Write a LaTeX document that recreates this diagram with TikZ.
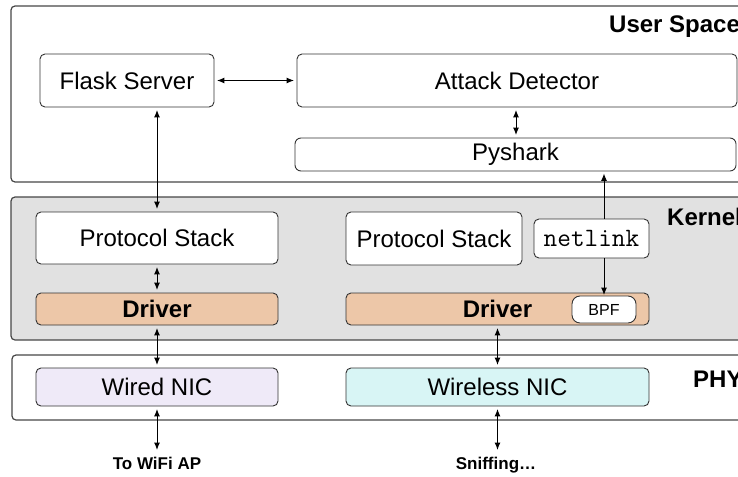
\documentclass[tikz,border=0pt]{standalone}
\usepackage{fontspec}
\setmainfont{Liberation Sans}
\usetikzlibrary{arrows.meta}
\definecolor{kernelgray}{HTML}{E1E1E1}
\definecolor{driverfill}{HTML}{EDC7A8}
\definecolor{wiredfill}{HTML}{EFEAF8}
\definecolor{wirelessfill}{HTML}{D8F5F5}
\definecolor{edgecol}{HTML}{333333}
\begin{document}
\begin{tikzpicture}[x=1pt,y=-1pt,
  layer/.style={draw=edgecol!90, line width=1.2pt, rounded corners=4pt, inner sep=0pt},
  box/.style={draw=edgecol, line width=0.9pt, rounded corners=5pt, fill=white, inner sep=0pt,
    font=\fontsize{24}{28}\selectfont},
  drv/.style={box, fill=driverfill, font=\bfseries\fontsize{24}{28}\selectfont},
  layerlbl/.style={anchor=base west, inner sep=0pt, font=\bfseries\fontsize{24}{28}\selectfont},
  endlbl/.style={anchor=base, inner sep=0pt, font=\bfseries\fontsize{17}{20}\selectfont},
  link/.style={{Latex[length=7.5pt,width=6pt]}-{Latex[length=7.5pt,width=6pt]}, line width=1pt,
    shorten <=2.5pt, shorten >=2.5pt},
  onelink/.style={-{Latex[length=7.5pt,width=6pt]}, line width=1pt, shorten >=2pt},
]
\useasboundingbox (0,0) rectangle (738,476);
\clip (0,0) rectangle (738,476);

% layers
\node[layer, fill=white, minimum width=759pt, minimum height=176pt] (uspace) at (390.5,94) {};
\node[layer, fill=kernelgray, minimum width=759pt, minimum height=143pt] (kernel) at (390.5,268.5) {};
\node[layer, fill=white, minimum width=758pt, minimum height=65pt] (phy) at (391,387.5) {};

\node[layerlbl] (lbluser) at (609,33) {User Space};
\node[layerlbl] (lblkernel) at (667,225) {Kernel};
\node[layerlbl] (lblphy) at (693,387) {PHY};

% user space
\node[box, minimum width=174pt, minimum height=53pt] (flask) at (127,80.5) {Flask Server};
\node[box, minimum width=440pt, minimum height=53pt] (detector) at (517,80.5) {Attack Detector};
\node[box, rounded corners=6pt, minimum width=441pt, minimum height=33pt] (pyshark) at (515.5,154.5) {Pyshark};

% kernel
\node[box, minimum width=242pt, minimum height=52pt] (protl) at (157,238) {Protocol Stack};
\node[box, minimum width=176pt, minimum height=53pt] (protr) at (434,238.5) {Protocol Stack};
\node[box, minimum width=115pt, minimum height=39pt, font=\ttfamily\fontsize{26.5}{30}\selectfont] (netlink) at (591.5,238.5) {netlink};
\node[drv, minimum width=242pt, minimum height=32pt] (drvl) at (157,309) {Driver};
\node[drv, minimum width=303pt, minimum height=32pt] (drvr) at (497.5,309) {Driver};
\node[box, rounded corners=8pt, minimum width=64pt, minimum height=27pt, font=\fontsize{16}{19}\selectfont] (bpf) at (604,309.5) {BPF};

% hardware
\node[box, fill=wiredfill, minimum width=242pt, minimum height=38pt] (wired) at (157,387) {Wired NIC};
\node[box, fill=wirelessfill, minimum width=303pt, minimum height=38pt] (wireless) at (497.5,387) {Wireless NIC};

\coordinate (wiredend) at (157,450);
\coordinate (wirelessend) at (497.5,450);
\node[endlbl] (towifi) at (157,469) {To WiFi AP};
\node[endlbl] (sniff) at (496,469) {Sniffing…};

% connectors
\draw[link] (flask.east) -- (detector.west);
\draw[link] (detector.south -| 516,0) -- (pyshark.north -| 516,0);
\draw[link] (flask.south -| protl.north) -- (protl.north);
\draw[link] (protl.south) -- (drvl.north);
\draw[link] (drvl.south) -- (wired.north);
\draw[link, shorten >=0pt] (wired.south) -- (wiredend);
\draw[link] (drvr.south) -- (wireless.north);
\draw[link, shorten >=0pt] (wireless.south) -- (wirelessend);
\draw[onelink] (netlink.north -| bpf.north) -- (pyshark.south -| bpf.north);
\draw[onelink, shorten >=0.5pt] (netlink.south -| bpf.north) -- (bpf.north);
\end{tikzpicture}
\end{document}
